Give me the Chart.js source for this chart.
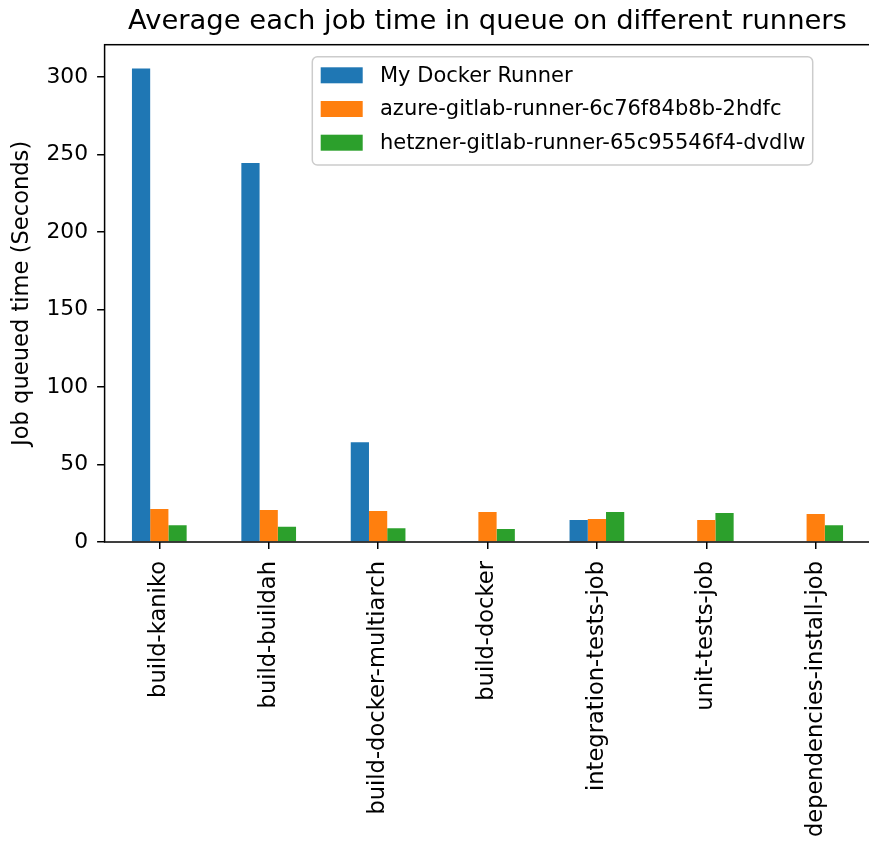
<!DOCTYPE html>
<html>
<head>
<meta charset="utf-8">
<script src="https://cdn.jsdelivr.net/npm/chart.js@4.4.1/dist/chart.umd.min.js"></script>
<style>
  html, body { margin: 0; padding: 0; background: #fff; overflow: hidden; }
  #wrap { width: 880px; height: 845px; }
</style>
</head>
<body>
<div id="wrap"><canvas id="lienzo" width="880" height="845"></canvas></div>
<script>
// job names (x categories)
const jobs = ['build-kaniko', 'build-buildah', 'build-docker-multiarch', 'build-docker',
  'integration-tests-job', 'unit-tests-job', 'dependencies-install-job']

// average queued seconds per runner
const myDocker = [305.6, 244.6, 64.4, 0.4, 14.2, 0, 0]
const azure = [21.3, 20.7, 20.0, 19.4, 14.9, 14.2, 18.1]
const hetzner = [10.8, 9.9, 8.8, 8.4, 19.4, 18.7, 10.8]

const runners = ['My Docker Runner', 'azure-gitlab-runner-6c76f84b8b-2hdfc', 'hetzner-gitlab-runner-65c95546f4-dvdlw']
const colores = ['#1f77b4', '#ff7f0e', '#2ca02c']
const yTicks = [0, 50, 100, 150, 200, 250, 300]

const fuente = 'DejaVu Sans'

// matplotlib style frame (top, left, bottom spines)
const marco = {
  id: 'marco',
  afterDatasetsDraw(chart) {
    const { ctx, chartArea: a } = chart
    ctx.save()
    ctx.strokeStyle = '#000'
    ctx.lineWidth = 1.5
    ctx.strokeRect(a.left, a.top, a.right - a.left, a.bottom - a.top)
    ctx.restore()
  }
}

// legend box in the upper part of the axes
const leyenda = {
  id: 'leyenda',
  afterDraw(chart) {
    const { ctx, chartArea: a } = chart
    const x = a.left + 207.7, y = a.top + 12, w = 500.4, h = 108.3, r = 5
    ctx.save()
    ctx.beginPath()
    ctx.roundRect(x, y, w, h, r)
    ctx.fillStyle = 'rgba(255,255,255,0.8)'
    ctx.fill()
    ctx.strokeStyle = '#cccccc'
    ctx.lineWidth = 1.5
    ctx.stroke()
    ctx.font = '21px "' + fuente + '"'
    ctx.textBaseline = 'middle'
    ctx.textAlign = 'left'
    chart.data.datasets.forEach((ds, i) => {
      const cy = y + 18.6 + i * 33.7
      ctx.fillStyle = ds.backgroundColor
      ctx.fillRect(x + 8.4, cy - 8, 42, 16)
      ctx.fillStyle = '#000'
      ctx.fillText(ds.label, x + 67.7, cy + 1)
    })
    ctx.restore()
  }
}

new Chart(document.getElementById('lienzo'), {
  type: 'bar',
  data: {
    labels: jobs,
    datasets: [
      { label: runners[0], data: myDocker, backgroundColor: colores[0] },
      { label: runners[1], data: azure, backgroundColor: colores[1] },
      { label: runners[2], data: hetzner, backgroundColor: colores[2] }
    ]
  },
  options: {
    responsive: false,
    animation: false,
    layout: { padding: { left: 0, right: 9.6, top: 0, bottom: 0 } },
    datasets: {
      bar: { categoryPercentage: 0.5, barPercentage: 1.0, borderWidth: 0 }
    },
    plugins: {
      legend: { display: false },
      tooltip: { enabled: false },
      title: {
        display: true,
        fullSize: false,
        text: 'Average each job time in queue on different runners',
        color: '#000',
        font: { family: fuente, size: 27.4, weight: 'normal', lineHeight: 1.0 },
        padding: { top: 8.5, bottom: 8.8 }
      }
    },
    scales: {
      x: {
        grid: { display: true, offset: false, drawOnChartArea: false, drawTicks: true, tickLength: 7, color: '#000', lineWidth: 1.5 },
        border: { display: false },
        ticks: {
          color: '#000',
          font: { family: fuente, size: 22.6 },
          minRotation: 90,
          maxRotation: 90,
          padding: 12,
          autoSkip: false
        },
        afterFit(scale) { scale.height = 303 }
      },
      y: {
        min: 0,
        max: 321,
        grid: { display: true, drawOnChartArea: false, drawTicks: true, tickLength: 7.5, color: '#000', lineWidth: 1.5 },
        border: { display: false },
        ticks: {
          color: '#000',
          font: { family: fuente, size: 21.8 },
          padding: 9
        },
        afterBuildTicks(axis) { axis.ticks = yTicks.map(v => ({ value: v })) },
        title: {
          display: true,
          text: 'Job queued time (Seconds)',
          color: '#000',
          font: { family: fuente, size: 22.6 },
          padding: { top: 9, bottom: 0 }
        },
        afterFit(scale) { scale.width = 104.6 }
      }
    }
  },
  plugins: [marco, leyenda]
})
</script>
</body>
</html>
